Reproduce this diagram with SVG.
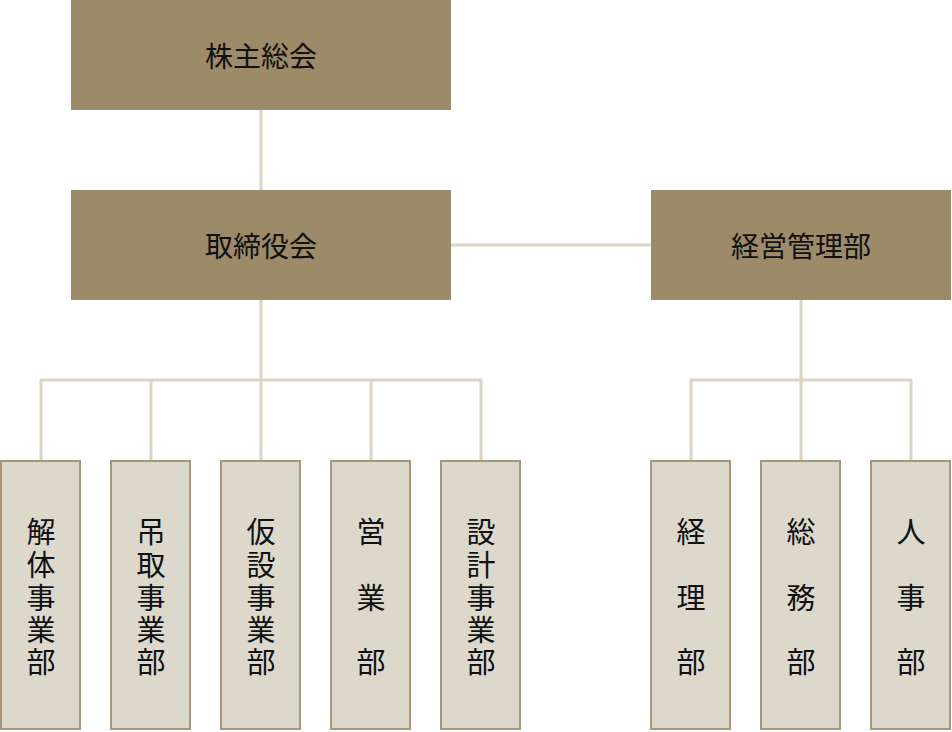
<svg xmlns="http://www.w3.org/2000/svg" width="952" height="732" viewBox="0 0 952 732">
<style>
.big{fill:#9c8a69}
.small{fill:#dcd8cc;stroke:#a8977a;stroke-width:2}
text{font-family:"Noto Sans CJK JP","Noto Sans CJK SC",sans-serif;fill:#111;text-anchor:middle;dominant-baseline:central}
.h{font-size:28px}
.v{font-size:29px}
.ln{stroke:#dcd5c5;stroke-width:3;fill:none}
</style>
<rect width="952" height="732" fill="#fff"/>
<g id="connectors">
<path class="ln" d="M261 110V190M451 245H651M261 300V380M41 460V380H481V460M151 380V460M261 380V460M371 380V460M801 300V380M691 460V380H911V460M801 380V460"/>
</g>
<g id="n1"><rect class="big" x="71" y="0" width="380" height="110"/><text class="h" x="261" y="55">株主総会</text></g>
<g id="n2"><rect class="big" x="71" y="190" width="380" height="110"/><text class="h" x="261" y="245">取締役会</text></g>
<g id="n3"><rect class="big" x="651" y="190" width="300" height="110"/><text class="h" x="801" y="245">経営管理部</text></g>
<g id="d1"><rect class="small" x="1" y="461" width="79" height="268"/><text class="v" x="41"><tspan x="41" y="530">解</tspan><tspan x="41" y="563">体</tspan><tspan x="41" y="596">事</tspan><tspan x="41" y="628">業</tspan><tspan x="41" y="660">部</tspan></text></g>
<g id="d2"><rect class="small" x="111" y="461" width="79" height="268"/><text class="v" x="151"><tspan x="151" y="530">吊</tspan><tspan x="151" y="563">取</tspan><tspan x="151" y="596">事</tspan><tspan x="151" y="628">業</tspan><tspan x="151" y="660">部</tspan></text></g>
<g id="d3"><rect class="small" x="221" y="461" width="79" height="268"/><text class="v"><tspan x="261" y="530">仮</tspan><tspan x="261" y="563">設</tspan><tspan x="261" y="596">事</tspan><tspan x="261" y="628">業</tspan><tspan x="261" y="660">部</tspan></text></g>
<g id="d4"><rect class="small" x="331" y="461" width="79" height="268"/><text class="v"><tspan x="371" y="530">営</tspan><tspan x="371" y="596">業</tspan><tspan x="371" y="660">部</tspan></text></g>
<g id="d5"><rect class="small" x="441" y="461" width="79" height="268"/><text class="v"><tspan x="481" y="530">設</tspan><tspan x="481" y="563">計</tspan><tspan x="481" y="596">事</tspan><tspan x="481" y="628">業</tspan><tspan x="481" y="660">部</tspan></text></g>
<g id="d6"><rect class="small" x="651" y="461" width="79" height="268"/><text class="v"><tspan x="691" y="530">経</tspan><tspan x="691" y="596">理</tspan><tspan x="691" y="660">部</tspan></text></g>
<g id="d7"><rect class="small" x="761" y="461" width="79" height="268"/><text class="v"><tspan x="801" y="530">総</tspan><tspan x="801" y="596">務</tspan><tspan x="801" y="660">部</tspan></text></g>
<g id="d8"><rect class="small" x="871" y="461" width="79" height="268"/><text class="v"><tspan x="911" y="530">人</tspan><tspan x="911" y="596">事</tspan><tspan x="911" y="660">部</tspan></text></g>
</svg>
